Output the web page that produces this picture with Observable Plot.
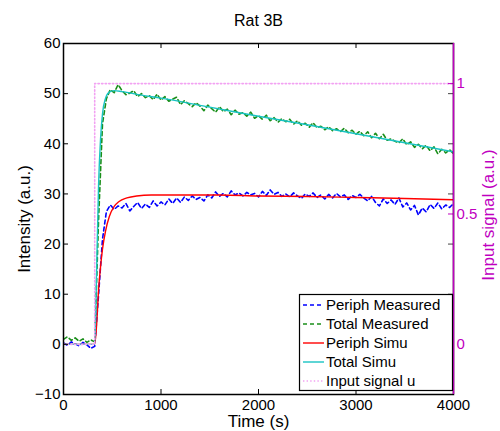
<!DOCTYPE html>
<html><head><meta charset="utf-8">
<script src="https://cdn.jsdelivr.net/npm/d3@7"></script>
<script src="https://cdn.jsdelivr.net/npm/@observablehq/plot@0.6"></script>
<style>
body{margin:0;background:#fff}
#chart{position:relative;width:500px;height:431px}
</style>
</head><body><div id="chart"></div>
<script>
// ---- data ----
const measTimes = d3.range(0, 4001, 40);
const periphMeasured = [
  0.3,-0.2,0.5,0.1,-0.3,0.4,-0.1,-0.8,-0.4,10,
  21,26.5,27.8,26.9,27.6,27.2,28.1,26.6,27.5,28.3,
  27.1,28.0,27.3,28.6,27.6,28.4,27.8,29.0,28.1,29.2,
  28.3,29.4,28.7,29.6,28.9,29.3,28.6,29.8,29.2,30.4,
  29.5,30.1,29.4,30.6,29.8,30.2,29.6,30.3,29.8,30.1,
  29.4,30.5,29.7,30.8,29.9,30.3,29.5,30.0,29.4,30.2,
  29.6,29.1,30.0,29.5,30.2,29.3,29.8,29.0,29.9,29.2,
  30.1,29.4,29.8,28.9,29.7,29.3,29.9,29.2,28.6,29.5,
  28.3,27.6,29.0,28.1,28.8,27.9,29.2,27.4,28.2,26.8,
  27.7,25.8,27.2,26.4,27.9,27.1,28.2,27.0,27.8,27.3,
  28.1
];
const totalMeasured = [
  1.0,1.5,0.8,1.3,0.6,1.1,0.4,0.9,0.5,25,
  44,49,50.8,50.2,51.8,50.6,49.8,50.1,50.6,49.4,
  50.0,49.2,49.6,48.8,49.9,48.7,49.4,48.5,48.9,49.3,
  47.8,48.6,48.0,47.4,48.2,47.5,46.6,47.7,47.0,46.3,
  47.4,46.4,46.9,45.8,46.7,45.9,46.2,45.5,46.3,45.1,
  45.6,44.9,45.7,44.6,45.2,44.3,45.0,44.4,44.9,43.9,
  44.6,43.7,44.1,43.3,44.2,43.2,43.5,42.8,43.4,42.6,
  43.0,42.4,43.1,42.2,42.7,41.9,42.5,41.6,42.4,41.2,
  42.1,41.0,41.9,40.7,41.0,40.5,40.2,41.0,39.8,40.4,
  39.3,39.9,39.0,39.7,38.6,39.4,38.0,38.9,38.2,38.8,
  38.0
];
const periphSimuT = [0,320,340,360,380,400,430,470,520,570,650,750,900,1200,1600,2000,2500,3000,3500,4000];
const periphSimuV = [0,0,4,11,15.5,19,22.5,25.5,27.5,28.5,29.2,29.6,29.8,29.8,29.8,29.6,29.5,29.3,29.1,28.85];
const totalSimuT = [0,320,340,360,380,400,430,470,520,600,800,1000,1500,2000,2500,3000,3500,4000];
const totalSimuV = [0,0,15,32,41,46,49,50.3,50.6,50.4,49.7,49.1,47.3,45.5,43.8,42.0,40.2,38.4];
const inputT = [0,320,320,4000];
const inputU = [0,0,1,1];
const leftTicks = [-10,0,10,20,30,40,50,60];
const xTicks = [0,1000,2000,3000,4000];
const rightTicks = [0,0.5,1];
const rightFactor = 52; // left units per right unit
const legendLabels = ["Periph Measured","Total Measured","Periph Simu","Total Simu","Input signal u"];

// ---- styles ----
const C = {pm:"#0000ff", tm:"#1a8f1a", ps:"#ff0000", ts:"#19c3c3", inp:"#f2a2f2", mag:"#bf00bf"};
const pm = measTimes.map((t,i)=>({t, v: periphMeasured[i]}));
const tm = measTimes.map((t,i)=>({t, v: totalMeasured[i]}));
const ps = periphSimuT.map((t,i)=>({t, v: periphSimuV[i]}));
const ts = totalSimuT.map((t,i)=>({t, v: totalSimuV[i]}));
const inp = inputT.map((t,i)=>({t, v: inputU[i]*rightFactor}));
const lbl = {textAnchor:"middle", lineAnchor:"middle", text:d=>d};

const plot = Plot.plot({
  width: 500, height: 431,
  marginLeft: 63, marginRight: 47, marginTop: 43, marginBottom: 37,
  style: {fontFamily: "'Liberation Sans', Arial, sans-serif", fontSize: "15px", color: "black", background: "white"},
  x: {domain: [0, 4000]},
  y: {domain: [-10, 60]},
  marks: [
    Plot.line(pm, {x:"t", y:"v", stroke:C.pm, strokeWidth:1.6, strokeDasharray:"4,3", clip:true}),
    Plot.line(tm, {x:"t", y:"v", stroke:C.tm, strokeWidth:1.6, strokeDasharray:"4,3", clip:true}),
    Plot.line(ps, {x:"t", y:"v", stroke:C.ps, strokeWidth:1.4, curve:"monotone-x", clip:true}),
    Plot.line(ts, {x:"t", y:"v", stroke:C.ts, strokeWidth:1.4, curve:"monotone-x", clip:true}),
    Plot.line(inp, {x:"t", y:"v", stroke:C.inp, strokeWidth:1.6, strokeDasharray:"1.4,2.2", clip:true}),
    Plot.axisX(xTicks, {tickSize:0, tickPadding:5, label:null, fontSize:15, tickFormat: d=>String(d)}),
    Plot.axisY(leftTicks, {tickSize:0, tickPadding:3, label:null, fontSize:15, tickFormat: d=> d<0 ? "\u2212"+(-d) : String(d)}),
    Plot.axisY(rightTicks.map(d=>d*rightFactor), {anchor:"right", tickSize:0, tickPadding:3, label:null, fontSize:15, fill:C.mag, tickFormat: d=>String(d/rightFactor)}),
    Plot.tickY(leftTicks, {y:d=>d, insetRight:385, stroke:"black", strokeWidth:1}),
    Plot.tickY(leftTicks, {y:d=>d, insetLeft:385, stroke:"#444", strokeWidth:1}),
    Plot.tickX(xTicks, {x:d=>d, insetTop:346, stroke:"black", strokeWidth:1}),
    Plot.tickX(xTicks, {x:d=>d, insetBottom:346, stroke:"black", strokeWidth:1}),
    Plot.tickY(rightTicks.map(d=>d*rightFactor), {y:d=>d, insetLeft:385, stroke:C.mag, strokeWidth:1}),
    Plot.frame({stroke:"black", strokeWidth:1.5}),
    Plot.ruleX([4000], {stroke:C.mag, strokeWidth:1.5}),
    Plot.text(["Rat 3B"], {...lbl, frameAnchor:"top", dy:-23, fontSize:16}),
    Plot.text(["Time (s)"], {...lbl, frameAnchor:"bottom", dy:27, fontSize:17}),
    Plot.text(["Intensity (a.u.)"], {...lbl, frameAnchor:"left", dx:-39, rotate:-90, fontSize:17}),
    Plot.text(["Input signal (a.u.)"], {...lbl, frameAnchor:"right", dx:35, dy:-4, rotate:-90, fontSize:17, fill:C.mag})
  ]
});
document.getElementById("chart").appendChild(plot);

// ---- legend (drawn into the plot svg) ----
const svg = d3.select(plot);
const lg = svg.append("g").attr("font-family","'Liberation Sans', Arial, sans-serif").attr("font-size",15).attr("text-anchor","start");
lg.append("rect").attr("x",299.5).attr("y",294.5).attr("width",153).attr("height",96)
  .attr("fill","white").attr("stroke","black").attr("stroke-width",1.2);
const legStyles = [
  {stroke:C.pm, dash:"4,3", w:1.6},
  {stroke:C.tm, dash:"4,3", w:1.6},
  {stroke:C.ps, dash:null, w:1.4},
  {stroke:C.ts, dash:null, w:1.4},
  {stroke:C.inp, dash:"1.4,2.2", w:1.6}
];
legendLabels.forEach((lab,i)=>{
  const y = 305 + i*19;
  const s = legStyles[i];
  const l = lg.append("line").attr("x1",303).attr("x2",324).attr("y1",y).attr("y2",y)
    .attr("stroke",s.stroke).attr("stroke-width",s.w);
  if (s.dash) l.attr("stroke-dasharray",s.dash);
  lg.append("text").attr("x",326).attr("y",y).attr("dy","0.35em").attr("text-anchor","start").attr("fill","black").text(lab);
});
</script>
</body></html>
